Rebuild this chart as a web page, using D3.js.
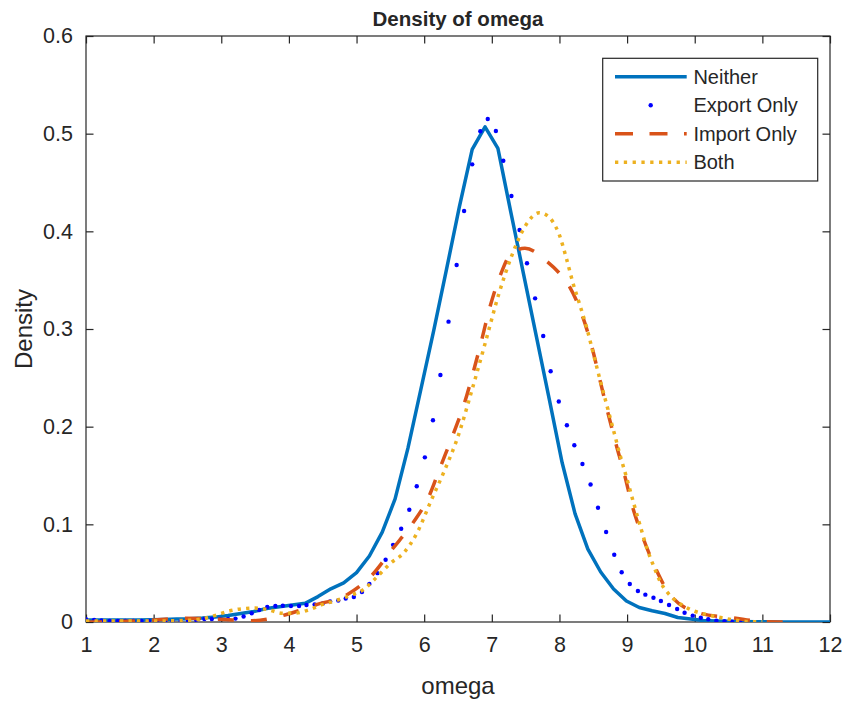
<!DOCTYPE html>
<html>
<head>
<meta charset="utf-8">
<script src="https://cdn.jsdelivr.net/npm/d3@7"></script>
<style>
body { margin:0; background:#fff; }
svg text { font-family: "Liberation Sans", Arial, sans-serif; fill:#262626; }
</style>
</head>
<body>
<div id="chartsArea"></div>
<script>
// density estimates
var neitherX = [0.82,1.01,1.20,1.39,1.58,1.77,1.96,2.15,2.34,2.53,2.72,2.91,3.10,3.29,3.48,3.67,3.86,4.05,4.24,4.43,4.62,4.81,5.00,5.19,5.38,5.57,5.76,5.95,6.14,6.33,6.52,6.71,6.90,7.09,7.28,7.47,7.66,7.85,8.04,8.23,8.42,8.61,8.80,8.99,9.18,9.37,9.56,9.75,9.94,10.13,10.32,10.51,10.70,10.89,11.08,11.27,11.46,11.65,11.84,12.03];
var neitherY = [0.002,0.002,0.002,0.002,0.002,0.002,0.0023,0.0026,0.003,0.0033,0.004,0.005,0.0067,0.0087,0.0107,0.0138,0.0157,0.0174,0.0191,0.026,0.034,0.040,0.0505,0.0676,0.092,0.126,0.178,0.238,0.298,0.361,0.425,0.484,0.507,0.485,0.42,0.356,0.292,0.228,0.163,0.111,0.0747,0.0512,0.0338,0.0215,0.0148,0.0115,0.0087,0.0046,0.003,0.0015,0.001,0.0007,0.0005,0.0003,0.0002,0.0001,0.0001,0,0,0];

var exportX = [1.00,1.12,1.23,1.35,1.47,1.58,1.70,1.82,1.93,2.05,2.17,2.28,2.40,2.51,2.63,2.75,2.86,2.98,3.10,3.21,3.33,3.45,3.56,3.68,3.80,3.91,4.03,4.15,4.26,4.38,4.50,4.61,4.73,4.84,4.96,5.08,5.19,5.31,5.43,5.54,5.66,5.78,5.89,6.01,6.13,6.24,6.36,6.48,6.59,6.71,6.83,6.94,7.06,7.17,7.29,7.41,7.52,7.64,7.76,7.87,7.99,8.11,8.22,8.34,8.46,8.57,8.69,8.81,8.92,9.04,9.16,9.27,9.39,9.50,9.62,9.74,9.85,9.97,10.09,10.20,10.32,10.44,10.55,10.67];
var exportY = [0.0028,0.0022,0.0016,0.0012,0.001,0.001,0.001,0.001,0.001,0.001,0.001,0.001,0.0012,0.0015,0.002,0.003,0.003,0.003,0.003,0.0035,0.0056,0.009,0.0123,0.0154,0.0164,0.0166,0.0164,0.0164,0.0174,0.018,0.019,0.021,0.022,0.024,0.0256,0.0307,0.039,0.050,0.0638,0.079,0.0955,0.115,0.139,0.1686,0.2065,0.2529,0.3075,0.3655,0.4208,0.4686,0.5025,0.515,0.5027,0.4723,0.4362,0.4014,0.3673,0.3314,0.2928,0.2567,0.2258,0.2014,0.1809,0.1618,0.1408,0.117,0.0921,0.0689,0.0509,0.0389,0.0317,0.028,0.0249,0.0215,0.0174,0.0133,0.0095,0.0065,0.0044,0.0028,0.0013,0.0007,0.0002,0];

var importX = [1.00,1.40,1.99,2.46,2.98,3.45,3.94,4.39,4.86,5.23,5.53,5.83,6.06,6.25,6.43,6.60,6.73,6.85,6.97,7.12,7.29,7.49,7.82,8.01,8.14,8.34,8.48,8.59,8.71,8.83,8.96,9.08,9.23,9.41,9.65,10.08,10.56,11.02,11.30];
var importY = [0,0.0003,0.002,0.0038,0.0028,0.0013,0.0072,0.0174,0.028,0.0481,0.0747,0.1011,0.127,0.1607,0.1925,0.2252,0.257,0.2887,0.322,0.3539,0.3775,0.3826,0.3689,0.3563,0.3445,0.3133,0.2816,0.2503,0.216,0.1838,0.1513,0.1181,0.0873,0.0567,0.0266,0.0089,0.0044,0.0003,0];

var bothX = [1.0,2.0,2.5,2.7,2.9,3.1,3.3,3.5,3.7,3.9,4.1,4.3,4.5,4.7,4.9,5.1,5.3,5.5,5.7,5.9,6.1,6.3,6.5,6.7,6.9,7.1,7.3,7.5,7.7,7.8,7.9,8.0,8.1,8.2,8.3,8.4,8.5,8.6,8.7,8.8,8.9,9.0,9.1,9.2,9.3,9.4,9.5,9.6,9.7,9.8,9.9,10.0,10.2,10.4,10.6,10.8,11.0];
var bothY = [0.001,0.001,0.0017,0.003,0.0065,0.011,0.0135,0.0143,0.0125,0.009,0.0092,0.0125,0.018,0.022,0.027,0.033,0.046,0.060,0.071,0.092,0.124,0.155,0.190,0.236,0.285,0.335,0.376,0.406,0.419,0.417,0.410,0.396,0.373,0.347,0.325,0.302,0.275,0.248,0.222,0.196,0.170,0.146,0.121,0.097,0.074,0.056,0.040,0.030,0.023,0.018,0.014,0.011,0.0072,0.0043,0.0018,0.0004,0.0002];

var xTicks = [1,2,3,4,5,6,7,8,9,10,11,12];
var yTicks = [0,0.1,0.2,0.3,0.4,0.5,0.6];
var seriesNames = ["Neither","Export Only","Import Only","Both"];

var getDimensions=function() {
	var margin = {top: 36, right: 19, bottom: 80, left: 86};
	return {
		w_browser: 849,
		h_browser: 702,
		width: 849 - margin.left - margin.right,
		height: 702 - margin.top - margin.bottom,
		margin: margin
	};
};

var zip=function(xs, ys) {
	return xs.map(function(x, i) { return {x: x, y: ys[i]}; });
};

var makeGraph=function() {
	var dim = getDimensions();
	var svg = d3.select("#chartsArea").append("svg")
		.attr("width", dim.w_browser)
		.attr("height", dim.h_browser);
	var g = svg.append("g")
		.attr("transform", "translate(" + dim.margin.left + "," + dim.margin.top + ")");

	var x = d3.scaleLinear().domain([1, 12]).range([0, dim.width]);
	var y = d3.scaleLinear().domain([0, 0.6]).range([dim.height, 0]);
	var tick = 7.5, axisColor = "#262626";

	g.append("clipPath").attr("id", "plotClip")
	.append("rect").attr("width", dim.width).attr("height", dim.height);

	// axes: bottom/left with labels, top/right mirrored ticks only
	var styleAxis=function(sel) {
		sel.select(".domain").remove();
		sel.selectAll("line").attr("stroke", axisColor).attr("stroke-width", 1.2);
		sel.selectAll("text").attr("font-size", 21.5).attr("fill", axisColor);
	};
	g.append("g")
	.attr("transform", "translate(0," + dim.height + ")")
	.call(d3.axisBottom(x).tickValues(xTicks).tickSizeInner(-tick).tickSizeOuter(0).tickPadding(15).tickFormat(d3.format("d")))
	.call(styleAxis);
	g.append("g")
	.call(d3.axisTop(x).tickValues(xTicks).tickSizeInner(-tick).tickSizeOuter(0).tickFormat(""))
	.call(styleAxis);
	g.append("g")
	.call(d3.axisLeft(y).tickValues(yTicks).tickSizeInner(-tick).tickSizeOuter(0).tickPadding(13).tickFormat(function(d) { return d === 0 ? "0" : d3.format(".1f")(d); }))
	.call(styleAxis);
	g.append("g")
	.attr("transform", "translate(" + dim.width + ",0)")
	.call(d3.axisRight(y).tickValues(yTicks).tickSizeInner(-tick).tickSizeOuter(0).tickFormat(""))
	.call(styleAxis);

	g.append("rect")
	.attr("width", dim.width).attr("height", dim.height)
	.attr("fill", "none").attr("stroke", axisColor).attr("stroke-width", 1.2);

	var line = d3.line()
	.x(function(d) { return x(d.x); })
	.y(function(d) { return y(d.y); });

	var plot = g.append("g").attr("clip-path", "url(#plotClip)");

	plot.append("path")
	.datum(zip(neitherX, neitherY))
	.attr("d", line).attr("fill", "none")
	.attr("stroke", "#0072BD").attr("stroke-width", 3.5).attr("stroke-linejoin", "round");

	plot.append("g").selectAll("circle")
	.data(zip(exportX, exportY))
	.enter().append("circle")
	.attr("cx", function(d) { return x(d.x); })
	.attr("cy", function(d) { return y(d.y); })
	.attr("r", 2.2)
	.attr("fill", "#0000FF");

	plot.append("path")
	.datum(zip(importX, importY))
	.attr("d", line.curve(d3.curveMonotoneX)).attr("fill", "none")
	.attr("stroke", "#D95319").attr("stroke-width", 3.5).attr("stroke-dasharray", "16,17");

	plot.append("path")
	.datum(zip(bothX, bothY))
	.attr("d", line.curve(d3.curveMonotoneX)).attr("fill", "none")
	.attr("stroke", "#EDB120").attr("stroke-width", 3.5).attr("stroke-dasharray", "3.3,5.2");

	// title and axis labels
	svg.append("text")
	.attr("x", dim.margin.left + dim.width / 2).attr("y", 26)
	.attr("text-anchor", "middle").attr("font-size", 20.5).attr("font-weight", "bold")
	.attr("fill", "#000")
	.text("Density of omega");
	svg.append("text")
	.attr("x", dim.margin.left + dim.width / 2).attr("y", 694)
	.attr("text-anchor", "middle").attr("font-size", 24)
	.text("omega");
	svg.append("text")
	.attr("transform", "translate(32," + (dim.margin.top + dim.height / 2) + ") rotate(-90)")
	.attr("text-anchor", "middle").attr("font-size", 24)
	.text("Density");

	// legend
	var lg = g.append("g").attr("transform", "translate(" + (602.7 - dim.margin.left) + "," + (58.3 - dim.margin.top) + ")");
	lg.append("rect")
	.attr("width", 215).attr("height", 122.7)
	.attr("fill", "#fff").attr("stroke", axisColor).attr("stroke-width", 1.2);
	var items = lg.selectAll("g.item")
	.data(seriesNames)
	.enter().append("g").attr("class", "item")
	.attr("transform", function(d, i) { return "translate(0," + (18.4 + i * 28.5) + ")"; });
	items.each(function(d, i) {
		var it = d3.select(this);
		if (i === 1) {
			it.append("circle").attr("cx", 48).attr("cy", 0).attr("r", 2.2).attr("fill", "#0000FF");
		} else {
			it.append("line").attr("x1", 12.3).attr("x2", 84).attr("y1", 0).attr("y2", 0)
			.attr("stroke", ["#0072BD", null, "#D95319", "#EDB120"][i]).attr("stroke-width", 3.5)
			.attr("stroke-dasharray", [null, null, "18,16.5", "3.3,5.5"][i]);
		}
		it.append("text").attr("x", 90.7).attr("y", 0).attr("dy", "0.35em")
		.attr("font-size", 20).attr("fill", "#000").text(d);
	});
};

makeGraph();
</script>
</body>
</html>
